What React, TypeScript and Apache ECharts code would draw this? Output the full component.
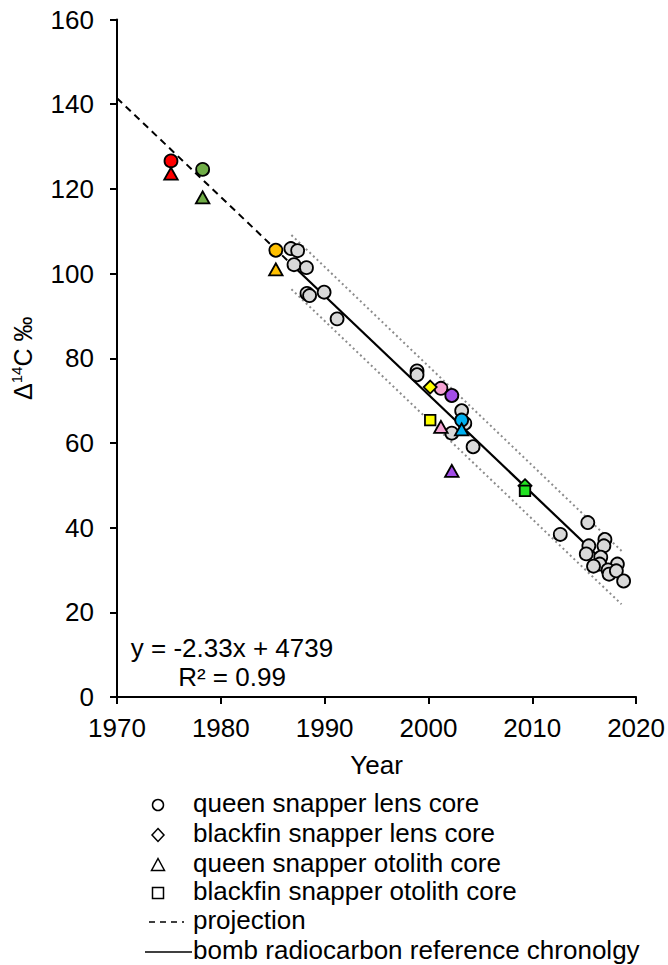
import React, { useEffect, useRef } from "react";
import * as echarts from "echarts";

const FONT = "'Liberation Sans', Arial, Helvetica, sans-serif";

// Fill colour of each fish (one colour per individual)
const PALETTE: Record<string, string> = {
  grey: "#d9d9d9",
  red: "#ff0000",
  green: "#70ad47",
  orange: "#ffc000",
  yellow: "#ffff00",
  pink: "#f4a3d3",
  purple: "#a24de8",
  blue: "#00b0f0",
  lime: "#22e222",
};

// queen snapper lens core: year, Δ14C (‰), fish
const queenLensYears = [
  1986.75, 1987.4, 1987.05, 1988.25, 1988.3, 1988.55, 1989.95, 1991.2, 1998.9, 1998.9,
  2003.2, 2003.5, 2002.25, 2004.3, 2012.7, 2015.35, 2017.0, 2016.9, 2015.45, 2015.2,
  2016.6, 2016.5, 2015.9, 2018.2, 2017.3, 2017.4, 2018.1, 2018.8,
  1975.2, 1978.25, 1985.3, 2001.2, 2002.25, 2003.2,
];
const queenLensValues = [
  105.9, 105.4, 102.1, 101.4, 95.3, 94.8, 95.6, 89.3, 77.0, 76.1,
  67.6, 64.6, 62.3, 59.1, 38.4, 41.2, 37.2, 35.7, 35.7, 33.8,
  33.0, 31.4, 30.9, 31.4, 30.0, 29.0, 29.8, 27.4,
  126.6, 124.6, 105.5, 72.9, 71.2, 65.4,
];
const queenLensFish = [
  "grey", "grey", "grey", "grey", "grey", "grey", "grey", "grey", "grey", "grey",
  "grey", "grey", "grey", "grey", "grey", "grey", "grey", "grey", "grey", "grey",
  "grey", "grey", "grey", "grey", "grey", "grey", "grey", "grey",
  "red", "green", "orange", "pink", "purple", "blue",
];

// blackfin snapper lens core
const blackfinLensYears = [2000.17, 2009.3];
const blackfinLensValues = [73.2, 49.9];
const blackfinLensFish = ["yellow", "lime"];

// queen snapper otolith core
const queenOtolithYears = [1975.2, 1978.25, 1985.3, 2001.2, 2002.25, 2003.2];
const queenOtolithValues = [123.6, 118.0, 101.0, 63.8, 53.4, 63.2];
const queenOtolithFish = ["red", "green", "orange", "pink", "purple", "blue"];

// blackfin snapper otolith core
const blackfinOtolithYears = [2000.17, 2009.3];
const blackfinOtolithValues = [65.4, 48.7];
const blackfinOtolithFish = ["yellow", "lime"];

// Bomb radiocarbon reference chronology (linear decline)
const REG_SLOPE = -2.3338;
const REG_INTERCEPT = 4739;
const REG_R2 = 0.99;
const projectionYears = [1970, 1986.8];
const chronologyYears = [1986.8, 2018.7];

// Prediction band around the chronology
const bandYears = [1986.8, 2018.6];
const upperBandValues = [109.1, 34.5];
const lowerBandValues = [96.3, 21.9];

// Axis ranges
const X_MIN = 1970;
const X_MAX = 2020;
const X_STEP = 10;
const Y_MIN = 0;
const Y_MAX = 160;
const Y_STEP = 20;

const reg = (x: number) => REG_SLOPE * x + REG_INTERCEPT;

const points = (years: number[], values: number[], fish: string[]) =>
  years.map((x, i) => ({
    value: [x, values[i]],
    itemStyle: { color: PALETTE[fish[i]] },
  }));

const markerStyle = { color: "#ffffff", borderColor: "#000000", borderWidth: 1.8, opacity: 1 };

export default function App() {
  const ref = useRef<HTMLDivElement>(null);

  useEffect(() => {
    if (!ref.current) return;
    const chart = echarts.init(ref.current, null, { renderer: "svg" });

    const legendX = 158;
    const legendTextX = 193;
    const rows = [803, 833, 863, 891, 920, 950];
    const legendLabels = [
      "queen snapper lens core",
      "blackfin snapper lens core",
      "queen snapper otolith core",
      "blackfin snapper otolith core",
      "projection",
      "bomb radiocarbon reference chronolgy",
    ];
    const hollow = { fill: "#ffffff", stroke: "#000000", lineWidth: 1.5 };

    const graphic: any[] = [
      {
        type: "text",
        x: 232,
        y: 648,
        style: {
          text: `y = ${REG_SLOPE.toFixed(2)}x + ${REG_INTERCEPT}`,
          font: `26px ${FONT}`,
          fill: "#000",
          align: "center",
          verticalAlign: "middle",
        },
      },
      {
        type: "text",
        x: 232,
        y: 677,
        style: {
          text: `R² = ${REG_R2.toFixed(2)}`,
          font: `26px ${FONT}`,
          fill: "#000",
          align: "center",
          verticalAlign: "middle",
        },
      },
      { type: "circle", shape: { cx: legendX, cy: rows[0] + 2, r: 5.5 }, style: hollow },
      {
        type: "polygon",
        shape: {
          points: [
            [legendX, rows[1] + 2 - 6.5],
            [legendX + 6, rows[1] + 2],
            [legendX, rows[1] + 2 + 6.5],
            [legendX - 6, rows[1] + 2],
          ],
        },
        style: hollow,
      },
      {
        type: "polygon",
        shape: {
          points: [
            [legendX, rows[2] + 2 - 6.5],
            [legendX + 6.5, rows[2] + 2 + 5.5],
            [legendX - 6.5, rows[2] + 2 + 5.5],
          ],
        },
        style: hollow,
      },
      { type: "rect", shape: { x: legendX - 5.5, y: rows[3] + 2 - 5.5, width: 11, height: 11 }, style: hollow },
      {
        type: "line",
        shape: { x1: 149, y1: rows[4] + 2, x2: 184, y2: rows[4] + 2 },
        style: { stroke: "#000", lineWidth: 1.6, lineDash: [6, 5] },
      },
      {
        type: "line",
        shape: { x1: 145, y1: rows[5] + 2, x2: 192, y2: rows[5] + 2 },
        style: { stroke: "#000", lineWidth: 1.6 },
      },
      ...legendLabels.map((t, i) => ({
        type: "text",
        x: legendTextX,
        y: rows[i],
        style: {
          text: t,
          font: `26px ${FONT}`,
          fill: "#000",
          align: "left",
          verticalAlign: "middle",
        },
      })),
    ];

    chart.setOption({
      animation: false,
      backgroundColor: "#ffffff",
      textStyle: { fontFamily: FONT },
      grid: { left: 117, right: 29.5, top: 19.5, bottom: 268, containLabel: false },
      xAxis: {
        type: "value",
        min: X_MIN,
        max: X_MAX,
        interval: X_STEP,
        name: "Year",
        nameLocation: "middle",
        nameGap: 55,
        nameTextStyle: { fontSize: 26, color: "#000", fontFamily: FONT },
        axisLine: { lineStyle: { color: "#000", width: 2 } },
        axisTick: { show: true, inside: false, length: 7, lineStyle: { color: "#000", width: 2 } },
        axisLabel: {
          fontSize: 26,
          color: "#000",
          margin: 18,
          fontFamily: FONT,
          formatter: (v: number) => String(v),
        },
        splitLine: { show: false },
      },
      yAxis: {
        type: "value",
        min: Y_MIN,
        max: Y_MAX,
        interval: Y_STEP,
        name: "{a|Δ}{s|14}{a|C ‰}",
        nameLocation: "middle",
        nameRotate: 90,
        nameGap: 80,
        nameTextStyle: {
          color: "#000",
          fontFamily: FONT,
          rich: {
            a: { fontSize: 25, color: "#000", fontFamily: FONT, lineHeight: 28 },
            s: { fontSize: 15, color: "#000", fontFamily: FONT, verticalAlign: "top", lineHeight: 14 },
          },
        },
        axisLine: { show: true, lineStyle: { color: "#000", width: 2 } },
        axisTick: { show: true, inside: false, length: 7, lineStyle: { color: "#000", width: 2 } },
        axisLabel: { fontSize: 26, color: "#000", margin: 23, fontFamily: FONT },
        splitLine: { show: false },
      },
      series: [
        {
          name: "upper band",
          type: "line",
          data: bandYears.map((x, i) => [x, upperBandValues[i]]),
          symbol: "none",
          lineStyle: { color: "#8c8c8c", width: 2, type: [2, 3] },
          z: 1,
        },
        {
          name: "lower band",
          type: "line",
          data: bandYears.map((x, i) => [x, lowerBandValues[i]]),
          symbol: "none",
          lineStyle: { color: "#8c8c8c", width: 2, type: [2, 3] },
          z: 1,
        },
        {
          name: "projection",
          type: "line",
          data: projectionYears.map((x) => [x, reg(x)]),
          symbol: "none",
          lineStyle: { color: "#000", width: 2, type: [7, 5] },
          z: 1,
        },
        {
          name: "bomb radiocarbon reference chronolgy",
          type: "line",
          data: chronologyYears.map((x) => [x, reg(x)]),
          symbol: "none",
          lineStyle: { color: "#000", width: 2.2 },
          z: 1,
        },
        {
          name: "queen snapper lens core",
          type: "scatter",
          symbol: "circle",
          symbolSize: 13,
          itemStyle: markerStyle,
          data: points(queenLensYears, queenLensValues, queenLensFish),
          z: 3,
        },
        {
          name: "blackfin snapper lens core",
          type: "scatter",
          symbol: "diamond",
          symbolSize: 13,
          itemStyle: markerStyle,
          data: points(blackfinLensYears, blackfinLensValues, blackfinLensFish),
          z: 3,
        },
        {
          name: "queen snapper otolith core",
          type: "scatter",
          symbol: "triangle",
          symbolSize: [13.5, 12],
          itemStyle: markerStyle,
          data: points(queenOtolithYears, queenOtolithValues, queenOtolithFish),
          z: 4,
        },
        {
          name: "blackfin snapper otolith core",
          type: "scatter",
          symbol: "rect",
          symbolSize: 10.5,
          itemStyle: markerStyle,
          data: points(blackfinOtolithYears, blackfinOtolithValues, blackfinOtolithFish),
          z: 4,
        },
      ],
      graphic,
    });

    return () => chart.dispose();
  }, []);

  return (
    <div
      ref={ref}
      style={{ position: "absolute", left: 0, top: 0, width: 668, height: 965 }}
    />
  );
}
